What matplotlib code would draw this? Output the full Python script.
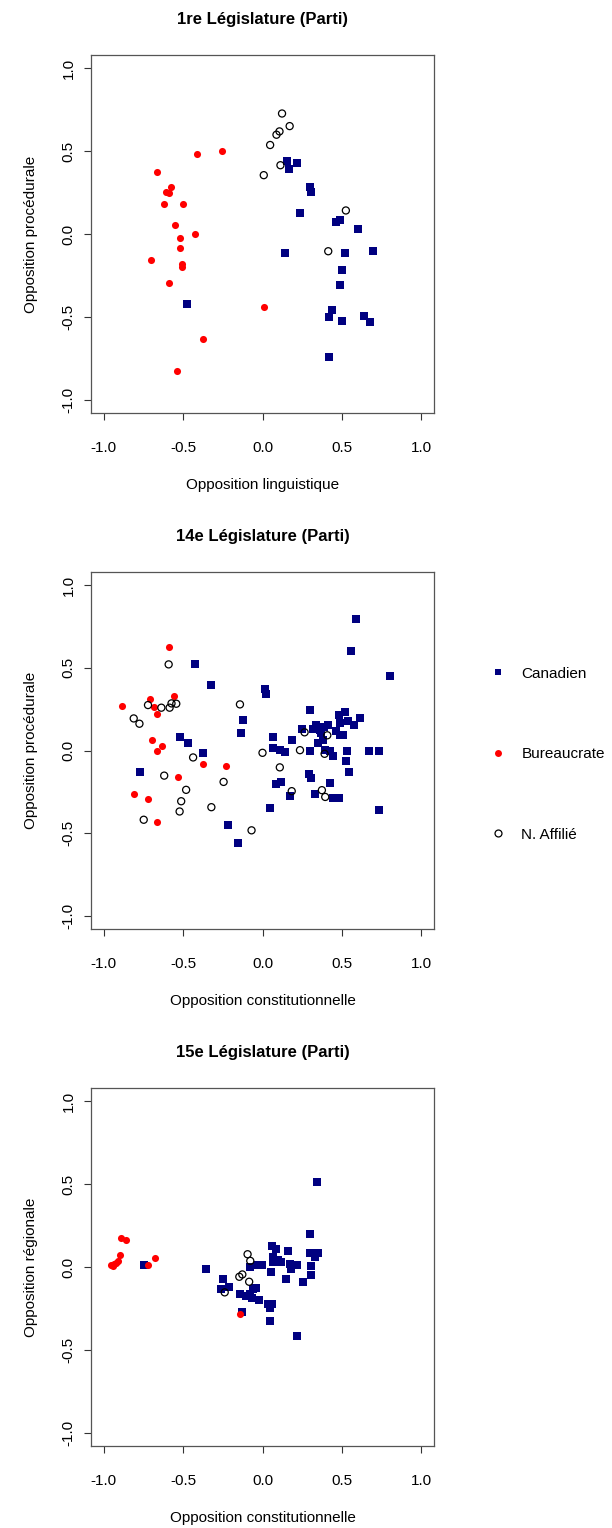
import matplotlib.pyplot as plt
from matplotlib.lines import Line2D

plt.rcParams['font.family'] = ['Liberation Sans', 'DejaVu Sans']

# ---- 1re Législature ----
l1_can_x = [0.153, 0.217, 0.169, 0.297, 0.305, 0.234, 0.466, 0.489, 0.604, 0.144, 0.52, 0.696,
            0.502, 0.485, -0.474, 0.435, 0.416, 0.499, 0.64, 0.677, 0.416]
l1_can_y = [0.439, 0.429, 0.391, 0.283, 0.253, 0.126, 0.074, 0.084, 0.028, -0.112, -0.114, -0.104,
            -0.22, -0.307, -0.425, -0.461, -0.501, -0.527, -0.493, -0.531, -0.74]
l1_bur_x = [-0.41, -0.253, -0.665, -0.579, -0.606, -0.587, -0.619, -0.5, -0.55, -0.426, -0.522,
            -0.52, -0.702, -0.504, -0.508, -0.589, 0.008, -0.374, -0.539]
l1_bur_y = [0.485, 0.503, 0.377, 0.281, 0.255, 0.246, 0.184, 0.184, 0.054, -0.002, -0.024,
            -0.086, -0.158, -0.184, -0.2, -0.293, -0.44, -0.633, -0.828]
l1_na_x = [0.123, 0.171, 0.107, 0.088, 0.048, 0.113, 0.008, 0.525, 0.414]
l1_na_y = [0.727, 0.651, 0.619, 0.599, 0.537, 0.415, 0.355, 0.142, -0.104]

# ---- 14e Législature ----
l14_can_x = [0.591, 0.56, 0.803, -0.424, -0.324, 0.017, 0.025, -0.121, -0.136, 0.299, 0.247,
             0.339, 0.318, 0.359, 0.414, 0.387, 0.366, 0.351, 0.38, 0.479, 0.52, 0.487, 0.537,
             0.579, 0.612, 0.46, 0.51, 0.485, 0.063, 0.065, 0.109, 0.144, 0.184, 0.299, 0.395,
             0.422, 0.441, 0.531, 0.669, 0.736, 0.527, 0.543, -0.518, -0.47, -0.374, -0.771,
             0.295, 0.305, 0.426, 0.082, 0.115, 0.173, 0.328, 0.445, 0.481, 0.736, 0.046,
             -0.217, -0.157]
l14_can_y = [0.794, 0.601, 0.449, 0.521, 0.399, 0.375, 0.341, 0.182, 0.106, 0.246, 0.132,
             0.156, 0.13, 0.126, 0.154, 0.142, 0.106, 0.046, 0.066, 0.212, 0.23, 0.166, 0.176,
             0.156, 0.198, 0.118, 0.094, 0.092, 0.08, 0.016, 0.006, -0.008, 0.062, -0.006, 0.006,
             0.0, -0.034, 0.0, -0.002, 0.0, -0.066, -0.13, 0.08, 0.044, -0.014, -0.13,
             -0.14, -0.168, -0.194, -0.2, -0.19, -0.275, -0.265, -0.285, -0.289, -0.359, -0.349,
             -0.451, -0.557]
l14_bur_x = [-0.591, -0.711, -0.556, -0.886, -0.681, -0.662, -0.696, -0.633, -0.667, -0.372,
             -0.23, -0.529, -0.811, -0.721, -0.662]
l14_bur_y = [0.625, 0.309, 0.331, 0.267, 0.265, 0.222, 0.062, 0.026, 0.0, -0.08,
             -0.092, -0.158, -0.265, -0.293, -0.431]
l14_na_x = [-0.591, -0.721, -0.637, -0.585, -0.543, -0.573, -0.811, -0.775, -0.142, -0.437, 0.0,
            0.236, 0.265, 0.408, 0.109, -0.619, -0.245, -0.481, -0.512, -0.522, -0.322, -0.748,
            -0.069, 0.184, 0.374, 0.395, 0.391]
l14_na_y = [0.521, 0.275, 0.259, 0.259, 0.283, 0.285, 0.194, 0.162, 0.279, -0.042, -0.014,
            0.002, 0.11, 0.092, -0.102, -0.152, -0.19, -0.238, -0.307, -0.369, -0.343, -0.419,
            -0.483, -0.246, -0.24, -0.281, -0.02]

# ---- 15e Législature ----
l15_can_x = [0.341, -0.746, -0.355, 0.301, 0.061, 0.088, 0.161, 0.297, 0.322, 0.349, 0.33,
             0.063, 0.063, 0.098, 0.119, 0.171, 0.217, 0.182, -0.079, -0.031, -0.004, 0.056,
             0.305, 0.305, 0.146, 0.253, -0.247, -0.209, -0.259, -0.142, -0.079, -0.104,
             -0.059, -0.038, -0.021, -0.063, 0.036, 0.061, 0.046, 0.046, 0.215, -0.13]
l15_can_y = [0.512, 0.011, -0.013, 0.2, 0.125, 0.111, 0.097, 0.087, 0.083, 0.083, 0.061,
             0.061, 0.031, 0.041, 0.029, 0.021, 0.011, -0.013, -0.003, 0.011, 0.011, -0.029,
             0.007, -0.049, -0.071, -0.093, -0.071, -0.119, -0.135, -0.163, -0.165, -0.177,
             -0.133, -0.129, -0.197, -0.187, -0.225, -0.223, -0.248, -0.324, -0.416, -0.27]
l15_bur_x = [-0.888, -0.859, -0.897, -0.911, -0.92, -0.936, -0.953, -0.94, -0.679, -0.719, -0.14]
l15_bur_y = [0.175, 0.165, 0.073, 0.037, 0.027, 0.017, 0.011, 0.007, 0.053, 0.011, -0.281]
l15_na_x = [-0.094, -0.077, -0.127, -0.146, -0.084, -0.238]
l15_na_y = [0.077, 0.037, -0.045, -0.059, -0.089, -0.153]

titles = ['1re Législature (Parti)', '14e Législature (Parti)', '15e Législature (Parti)']
xlabels = ['Opposition linguistique', 'Opposition constitutionnelle', 'Opposition constitutionnelle']
ylabels = ['Opposition procédurale', 'Opposition procédurale', 'Opposition régionale']
ticks = [-1.0, -0.5, 0.0, 0.5, 1.0]

data = [
    (l1_can_x, l1_can_y, l1_bur_x, l1_bur_y, l1_na_x, l1_na_y),
    (l14_can_x, l14_can_y, l14_bur_x, l14_bur_y, l14_na_x, l14_na_y),
    (l15_can_x, l15_can_y, l15_bur_x, l15_bur_y, l15_na_x, l15_na_y),
]

fig = plt.figure(figsize=(6.12, 15.28), dpi=100)

# axes boxes in pixels: left, top, right, bottom
boxes = [(91, 55, 434, 413), (91, 572, 434, 929), (91, 1088, 434, 1446)]
W, H = 612, 1528

for i, (cx, cy, bx, by, nx, ny) in enumerate(data):
    l, t, r, b = boxes[i]
    ax = fig.add_axes([l / W, 1 - b / H, (r - l) / W, (b - t) / H])
    ax.scatter(cx, cy, marker='s', s=26, color='#000080', linewidths=0, zorder=3)
    ax.scatter(bx, by, marker='o', s=26, color='red', linewidths=0, zorder=3)
    ax.scatter(nx, ny, marker='o', s=26, facecolors='none', edgecolors='black',
               linewidths=0.9, zorder=3)
    ax.set_xlim(-1.08, 1.08)
    ax.set_ylim(-1.08, 1.08)
    ax.set_xticks(ticks)
    ax.set_yticks(ticks)
    ax.set_xticklabels(['%.1f' % v for v in ticks])
    ax.set_yticklabels(['%.1f' % v for v in ticks], rotation=90, va='center')
    ax.tick_params(labelsize=11, length=5, width=0.8, color='#333333')
    ax.tick_params(axis='x', pad=15)
    ax.tick_params(axis='y', pad=6)
    for s in ax.spines.values():
        s.set_color('#555555')
        s.set_linewidth(0.9)
    ax.set_title(titles[i], fontsize=12, fontweight='bold', pad=22.5)
    ax.set_xlabel(xlabels[i], fontsize=11, labelpad=17)
    ax.set_ylabel(ylabels[i], fontsize=11, labelpad=17)

handles = [
    Line2D([], [], linestyle='none', marker='s', markersize=5, color='#000080', markeredgewidth=0),
    Line2D([], [], linestyle='none', marker='o', markersize=5, color='red', markeredgewidth=0),
    Line2D([], [], linestyle='none', marker='o', markersize=5, markerfacecolor='none',
           markeredgecolor='black', markeredgewidth=0.9),
]
fig.legend(handles, ['Canadien', 'Bureaucrate', 'N. Affilié'], loc='upper left',
           bbox_to_anchor=(477 / W, 1 - 653 / H), frameon=False, fontsize=11,
           labelspacing=4.35, handlelength=1.0, handletextpad=1.0)

fig.savefig('out.png', dpi=100)
